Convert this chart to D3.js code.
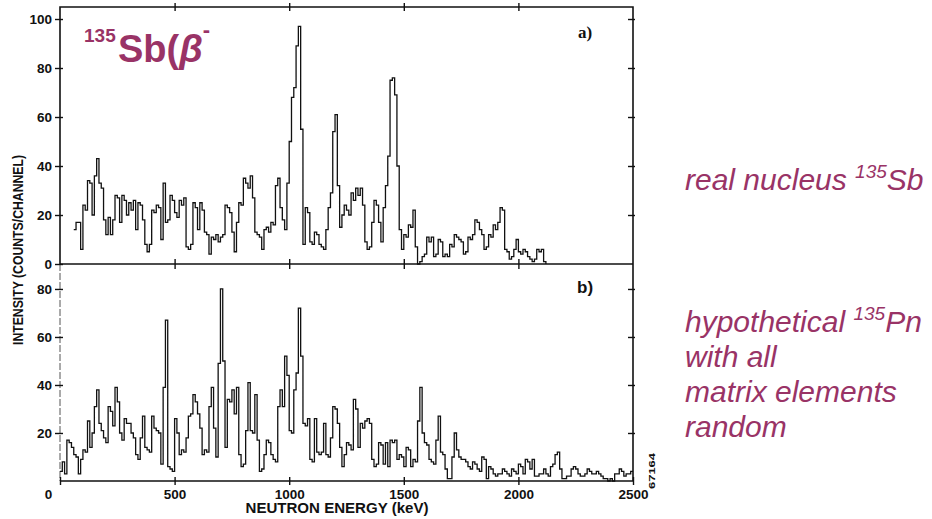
<!DOCTYPE html>
<html>
<head>
<meta charset="utf-8">
<script src="https://cdn.jsdelivr.net/npm/d3@7"></script>
<style>
  body { margin: 0; background: #fff; }
  svg { display: block; }
  .tick text { font-family: "Liberation Sans", Arial, sans-serif; font-weight: bold; font-size: 13.5px; fill: #111; }
</style>
</head>
<body>
<div id="chart"></div>
<script>
// neutron spectra, counts per 10 keV channel
const binWidth = 10;

// a) real nucleus 135Sb, channels from 60 keV
const startA = 60;
const specA = [
  14, 17, 17, 6, 24, 22, 34, 33, 20, 36,
  43, 33, 31, 18, 12, 19, 12, 18, 28, 27,
  17, 28, 26, 20, 25, 22, 26, 14, 25, 24,
  18, 8, 5, 8, 22, 21, 24, 23, 10, 33,
  17, 18, 28, 26, 21, 19, 26, 24, 27, 7,
  6, 8, 25, 23, 14, 25, 22, 13, 12, 4,
  11, 10, 12, 9, 11, 12, 24, 23, 21, 13,
  5, 17, 25, 24, 35, 33, 31, 36, 27, 13,
  12, 11, 6, 14, 15, 13, 17, 16, 32, 35,
  23, 18, 14, 33, 50, 68, 72, 89, 97, 55,
  8, 23, 21, 9, 8, 13, 12, 8, 7, 6,
  14, 23, 29, 54, 61, 32, 15, 20, 24, 22,
  20, 29, 26, 31, 28, 31, 24, 9, 6, 7,
  17, 26, 24, 17, 9, 23, 32, 44, 75, 76,
  69, 40, 14, 6, 12, 11, 16, 15, 22, 7,
  0, 1, 3, 4, 11, 9, 11, 3, 4, 10,
  9, 3, 4, 3, 8, 7, 12, 11, 10, 9,
  4, 5, 11, 10, 12, 18, 17, 14, 12, 6,
  7, 12, 11, 16, 14, 17, 23, 22, 6, 5,
  2, 3, 6, 10, 5, 4, 6, 5, 3, 2,
  1, 2, 6, 5, 6, 1
];

// b) hypothetical 135Pn, channels from 0 keV
const startB = 0;
const specB = [
  4, 8, 3, 17, 16, 14, 11, 10, 3, 9,
  13, 12, 25, 14, 20, 31, 38, 24, 21, 18,
  16, 31, 29, 23, 39, 33, 20, 17, 26, 24,
  24, 20, 18, 11, 9, 18, 27, 14, 13, 12,
  27, 22, 21, 20, 7, 39, 67, 6, 5, 4,
  26, 20, 11, 13, 12, 18, 27, 28, 36, 33,
  28, 22, 11, 13, 12, 31, 39, 22, 10, 49,
  80, 50, 14, 34, 33, 38, 28, 39, 11, 6,
  7, 21, 41, 21, 20, 36, 17, 4, 5, 11,
  17, 16, 11, 9, 8, 31, 38, 31, 52, 44,
  21, 20, 38, 45, 72, 52, 24, 23, 26, 9,
  8, 26, 12, 11, 12, 24, 11, 10, 18, 31,
  30, 24, 14, 6, 11, 16, 15, 13, 34, 30,
  14, 24, 22, 25, 26, 24, 9, 6, 7, 16,
  15, 7, 16, 6, 17, 16, 17, 9, 11, 10,
  6, 14, 13, 6, 9, 8, 25, 39, 20, 16,
  15, 9, 8, 7, 17, 27, 12, 11, 5, 1,
  1, 10, 20, 13, 10, 9, 9, 8, 6, 5,
  8, 7, 5, 4, 10, 9, 1, 6, 5, 3,
  2, 3, 3, 5, 4, 3, 2, 5, 4, 3,
  7, 6, 3, 9, 8, 5, 9, 2, 2, 3,
  3, 5, 3, 2, 6, 7, 11, 12, 5, 1,
  1, 2, 2, 5, 6, 5, 3, 2, 2, 3,
  5, 4, 3, 3, 4, 3, 2, 1, 1, 0,
  1, 0, 3, 3, 5, 4, 2, 3, 3, 4
];

const yTicksA = [0, 20, 40, 60, 80, 100];
const yTicksB = [20, 40, 60, 80];
const xTicks = [0, 500, 1000, 1500, 2000, 2500];
const innerTicks = [500, 1000, 1500, 2000];

const purple = '#993366';
const width = 932, height = 519;

const svg = d3.select('#chart')
    .append('svg')
    .attr('width', width)
    .attr('height', height);

const x = d3.scaleLinear().domain([0, 2500]).range([60, 633]);
const yA = d3.scaleLinear().domain([0, 104.9]).range([264, 7]);
const yB = d3.scaleLinear().domain([0, 90.4]).range([481, 264]);

// frames
const frame = svg.append('g').attr('fill', 'none').attr('stroke', '#111');
frame.append('path')
    .attr('stroke-width', 1.6)
    .attr('d', `M${x(0)},${yA(0)}V${yA.range()[1]}H${x(2500)}V${yB(0)}H${x(0)}`);
frame.append('line')
    .attr('stroke-width', 1.6)
    .attr('x1', x(0)).attr('x2', x(2500))
    .attr('y1', yA(0)).attr('y2', yA(0));
frame.append('line')
    .attr('stroke-width', 1)
    .attr('stroke', '#555')
    .attr('stroke-dasharray', '7,2')
    .attr('x1', x(0)).attr('x2', x(0))
    .attr('y1', yB.range()[1]).attr('y2', yB(0));

function styleTicks(g) {
    g.select('.domain').remove();
    g.selectAll('.tick line').attr('stroke', '#111').attr('stroke-width', 1.4);
}

// left axes
svg.append('g')
    .attr('transform', `translate(${x(0)},0)`)
    .call(d3.axisLeft(yA).tickValues(yTicksA).tickSize(5).tickPadding(3))
    .call(styleTicks)
    .call(g => g.selectAll('.tick line').attr('x1', 3));

svg.append('g')
    .attr('transform', `translate(${x(0)},0)`)
    .call(d3.axisLeft(yB).tickValues(yTicksB).tickSize(5).tickPadding(3))
    .call(styleTicks)
    .call(g => g.selectAll('.tick line').attr('x1', 3));

// right axes, ticks only
svg.append('g')
    .attr('transform', `translate(${x(2500)},0)`)
    .call(d3.axisRight(yA).tickValues(yTicksA.slice(1)).tickSize(2).tickFormat(''))
    .call(styleTicks)
    .call(g => g.selectAll('.tick line').attr('x1', -5));

svg.append('g')
    .attr('transform', `translate(${x(2500)},0)`)
    .call(d3.axisRight(yB).tickValues(yTicksB).tickSize(2).tickFormat(''))
    .call(styleTicks)
    .call(g => g.selectAll('.tick line').attr('x1', -5));

// top of panel a, shared edge, bottom
svg.append('g')
    .attr('transform', `translate(0,${yA.range()[1]})`)
    .call(d3.axisTop(x).tickValues(innerTicks).tickSize(4).tickFormat(''))
    .call(styleTicks)
    .call(g => g.selectAll('.tick line').attr('y1', 4));

svg.append('g')
    .attr('transform', `translate(0,${yA(0)})`)
    .call(d3.axisBottom(x).tickValues(innerTicks).tickSize(5).tickFormat(''))
    .call(styleTicks)
    .call(g => g.selectAll('.tick line').attr('y1', -5));

svg.append('g')
    .attr('transform', `translate(0,${yB(0)})`)
    .call(d3.axisBottom(x).tickValues(xTicks).tickSize(4).tickPadding(4).tickFormat(d3.format('d')))
    .call(styleTicks)
    .call(g => g.selectAll('.tick line').attr('y1', -4))
    .call(g => g.selectAll('.tick').filter(d => d === 0).select('text').attr('x', -12));

// spectra
function stepLine(y) {
    return d3.line()
        .x(d => x(d[0]))
        .y(d => y(d[1]))
        .curve(d3.curveStepAfter);
}

const ptsA = specA.map((v, i) => [startA + i * binWidth, v]);
ptsA.push([startA + specA.length * binWidth, 0]);
const ptsB = specB.map((v, i) => [startB + i * binWidth, v]);
ptsB.push([startB + specB.length * binWidth, specB[specB.length - 1]]);

svg.append('path')
    .datum(ptsA)
    .attr('fill', 'none')
    .attr('stroke', '#111')
    .attr('stroke-width', 1.3)
    .attr('d', stepLine(yA));

svg.append('path')
    .datum(ptsB)
    .attr('fill', 'none')
    .attr('stroke', '#111')
    .attr('stroke-width', 1.3)
    .attr('d', stepLine(yB));

// axis titles
svg.append('text')
    .attr('transform', 'translate(23,250) rotate(-90)')
    .attr('text-anchor', 'middle')
    .attr('font-family', '"Liberation Sans", Arial, sans-serif')
    .attr('font-weight', 'bold')
    .attr('font-size', 14.5)
    .attr('textLength', 190)
    .attr('lengthAdjust', 'spacingAndGlyphs')
    .attr('fill', '#111')
    .text('INTENSITY (COUNTS/CHANNEL)');

svg.append('text')
    .attr('x', 337).attr('y', 513)
    .attr('text-anchor', 'middle')
    .attr('font-family', '"Liberation Sans", Arial, sans-serif')
    .attr('font-weight', 'bold')
    .attr('font-size', 14)
    .attr('textLength', 183)
    .attr('lengthAdjust', 'spacingAndGlyphs')
    .attr('fill', '#111')
    .text('NEUTRON ENERGY (keV)');

// panel labels
svg.append('text')
    .attr('x', 578).attr('y', 38)
    .attr('font-family', '"Liberation Serif", "Times New Roman", serif')
    .attr('font-weight', 'bold')
    .attr('font-size', 17)
    .attr('fill', '#111')
    .text('a)');

svg.append('text')
    .attr('x', 577).attr('y', 293)
    .attr('font-family', '"Liberation Sans", Arial, sans-serif')
    .attr('font-weight', 'bold')
    .attr('font-size', 17)
    .attr('fill', '#111')
    .text('b)');

// plate number, outside the frame
svg.append('text')
    .attr('transform', 'translate(655,471) rotate(-90)')
    .attr('text-anchor', 'middle')
    .attr('font-family', '"Liberation Sans", Arial, sans-serif')
    .attr('font-weight', 'bold')
    .attr('font-size', 9)
    .attr('textLength', 36)
    .attr('lengthAdjust', 'spacingAndGlyphs')
    .attr('fill', '#111')
    .text('67164');

// title inside panel a
const title = svg.append('g')
    .attr('font-family', '"Liberation Sans", Arial, sans-serif')
    .attr('font-weight', 'bold')
    .attr('fill', purple);
title.append('text')
    .attr('x', 84).attr('y', 42)
    .attr('font-size', 19)
    .text('135');
const tMain = title.append('text')
    .attr('x', 118).attr('y', 62)
    .attr('font-size', 38)
    .text('Sb(');
tMain.append('tspan').attr('font-style', 'italic').text('β');
tMain.append('tspan').attr('font-size', 22).attr('dy', -25).text('-');

// annotations on the right
const notes = svg.append('g')
    .attr('font-family', '"Liberation Sans", Arial, sans-serif')
    .attr('font-style', 'italic')
    .attr('font-size', 30)
    .attr('fill', purple);

const n1 = notes.append('text').attr('x', 685).attr('y', 190).text('real nucleus ');
n1.append('tspan').attr('font-size', 19).attr('dy', -12).text('135');
n1.append('tspan').attr('dy', 12).text('Sb');

const n2 = notes.append('text').attr('x', 685).attr('y', 332).text('hypothetical ');
n2.append('tspan').attr('font-size', 19).attr('dy', -12).text('135');
n2.append('tspan').attr('dy', 12).text('Pn');

const otherLines = ['with all', 'matrix elements', 'random'];
notes.selectAll('text.more')
    .data(otherLines)
    .enter()
    .append('text')
    .attr('class', 'more')
    .attr('x', 685)
    .attr('y', (d, i) => 367 + i * 35)
    .text(d => d);
</script>
</body>
</html>
